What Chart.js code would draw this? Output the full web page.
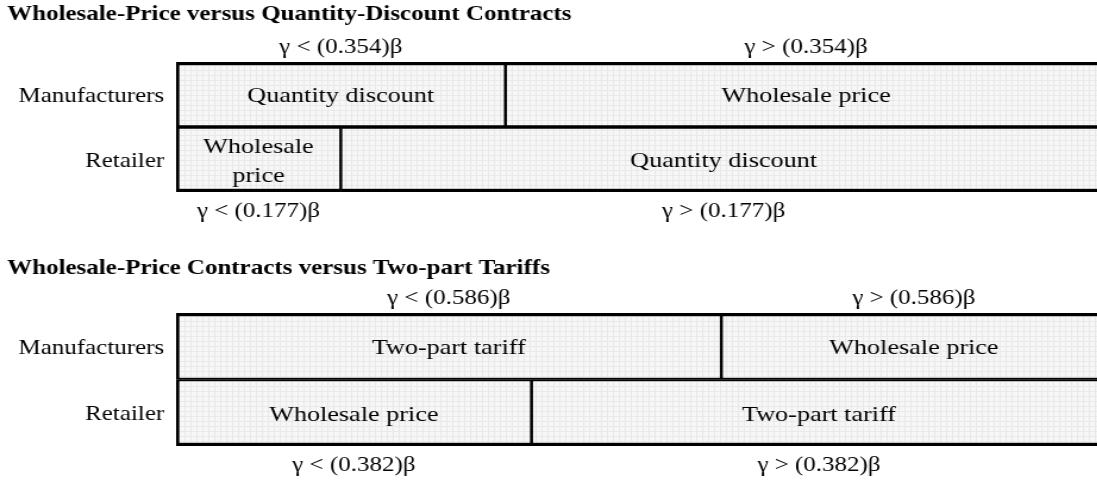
<!DOCTYPE html>
<html>
<head>
<meta charset="utf-8">
<script src="https://cdn.jsdelivr.net/npm/chart.js@4/dist/chart.umd.min.js"></script>
<style>
  html, body { margin: 0; padding: 0; background: #fff; overflow: hidden; }
  /* the original figure is a horizontally stretched scan, so stretch the canvases the same way */
  canvas { display: block; transform: scaleX(1.19); transform-origin: 0 0; }
</style>
</head>
<body>
<canvas id="qdChart" width="922" height="251"></canvas>
<canvas id="tptChart" width="922" height="231"></canvas>
<script>
const rows = ['Manufacturers', 'Retailer'];

const qdTitle = 'Wholesale-Price versus Quantity-Discount Contracts';
const qdThresholds = [0.354, 0.177];
const qdBelow = ['Quantity discount', 'Wholesale price'];
const qdAbove = ['Wholesale price', 'Quantity discount'];

const tptTitle = 'Wholesale-Price Contracts versus Two-part Tariffs';
const tptThresholds = [0.586, 0.382];
const tptBelow = ['Two-part tariff', 'Wholesale price'];
const tptAbove = ['Wholesale price', 'Two-part tariff'];

const rangeEnd = 1; // upper regions run on past the right edge

Chart.defaults.font.family = '"Liberation Serif", "Times New Roman", serif';
Chart.defaults.color = '#000';

// faint grid texture of the boxes
function gridPattern(ctx) {
    const tile = document.createElement('canvas');
    tile.width = 5;
    tile.height = 5;
    const c = tile.getContext('2d');
    c.fillStyle = '#f7f7f7';
    c.fillRect(0, 0, 5, 5);
    c.fillStyle = '#e9e9e9';
    c.fillRect(0, 0, 5, 1);
    c.fillRect(0, 0, 1, 5);
    return ctx.createPattern(tile, 'repeat');
}

// thick outer frame, shared inner edges split between neighbours
function edgeWidths(ctx) {
    const firstRow = ctx.dataIndex === 0;
    const lower = ctx.datasetIndex === 0;
    return {
        top: firstRow ? 3.5 : 2,
        bottom: firstRow ? 2 : 3.5,
        left: lower ? 3 : 1.6,
        right: lower ? 1.6 : 3
    };
}

const regionLabels = {
    id: 'regionLabels',
    afterDatasetsDraw(chart) {
        const ctx = chart.ctx;
        const area = chart.chartArea;
        ctx.save();
        ctx.fillStyle = '#000';
        ctx.textAlign = 'center';
        ctx.textBaseline = 'middle';
        chart.data.datasets.forEach((ds, di) => {
            chart.getDatasetMeta(di).data.forEach((bar, i) => {
                const left = Math.min(bar.x, bar.base);
                const right = Math.max(bar.x, bar.base);
                const cx = (left + right) / 2;

                // contract name inside the box, wrapped if it does not fit
                ctx.font = '22px "Liberation Serif"';
                const name = ds.names[i];
                const lines = ctx.measureText(name).width > right - left - 12 ? name.split(' ') : [name];
                lines.forEach((line, li) => {
                    ctx.fillText(line, cx, bar.y + 2 + (li - (lines.length - 1) / 2) * 29);
                });

                // condition: above the manufacturers row, below the retailer row
                const t = di === 0 ? ds.data[i][1] : ds.data[i][0];
                const cond = 'γ ' + (di === 0 ? '<' : '>') + ' (' + t.toFixed(3) + ')β';
                ctx.font = '21px "Liberation Serif"';
                const y = i === 0 ? area.top - 15 : area.bottom + 19;
                ctx.fillText(cond, cx, y);
            });
        });
        ctx.restore();
    }
};

function makeChart(id, title, thresholds, below, above, titleTop, bottomPad) {
    const canvas = document.getElementById(id);
    const fill = gridPattern(canvas.getContext('2d'));
    const boxStyle = {
        backgroundColor: fill,
        borderColor: '#000',
        borderSkipped: false,
        borderWidth: edgeWidths,
        grouped: false,
        categoryPercentage: 1,
        barPercentage: 1
    };
    return new Chart(canvas, {
        type: 'bar',
        data: {
            labels: rows,
            datasets: [
                Object.assign({ names: below, data: thresholds.map(t => [0, t]) }, boxStyle),
                Object.assign({ names: above, data: thresholds.map(t => [t, rangeEnd]) }, boxStyle)
            ]
        },
        options: {
            indexAxis: 'y',
            responsive: false,
            animation: false,
            layout: { padding: { left: 6, top: 0, right: 0, bottom: bottomPad } },
            scales: {
                x: { display: false, min: 0, max: 0.99 },
                y: {
                    grid: { display: false, drawTicks: false },
                    border: { display: false },
                    ticks: { color: '#000', padding: 10, labelOffset: 2, font: { size: 21 } },
                    afterFit: scale => { scale.width = 142; }
                }
            },
            plugins: {
                colors: { enabled: false },
                legend: { display: false },
                tooltip: { enabled: false },
                title: {
                    display: true,
                    text: title,
                    align: 'start',
                    color: '#000',
                    font: { size: 21, weight: 'bold', lineHeight: 1.2 },
                    padding: { top: titleTop, bottom: 62 - 25.2 - titleTop }
                }
            }
        },
        plugins: [regionLabels]
    });
}

makeChart('qdChart', qdTitle, qdThresholds, qdBelow, qdAbove, 2, 59);
makeChart('tptChart', tptTitle, tptThresholds, tptBelow, tptAbove, 5, 36);
</script>
</body>
</html>
